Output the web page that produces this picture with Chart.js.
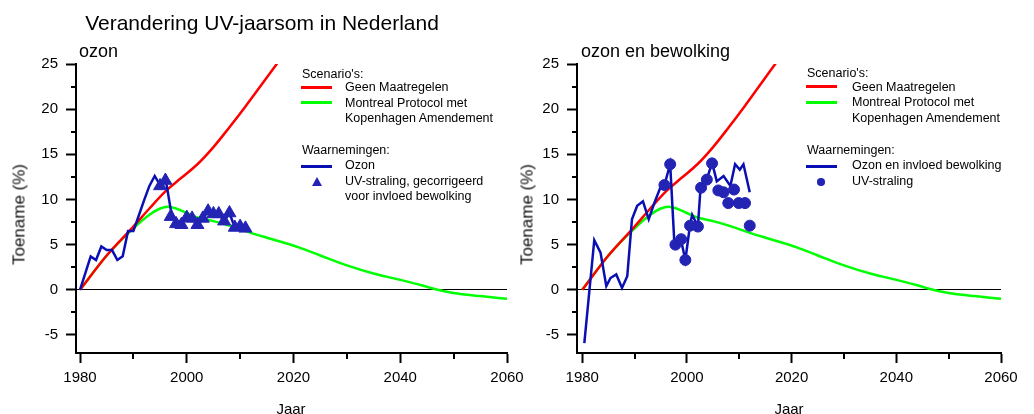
<!DOCTYPE html>
<html>
<head>
<meta charset="utf-8">
<script src="https://cdn.jsdelivr.net/npm/chart.js@4.4.1/dist/chart.umd.min.js"></script>
<style>
  body { margin: 0; background: #fff; width: 1034px; height: 414px; overflow: hidden; position: relative;
         font-family: "Liberation Sans", Arial, sans-serif; color: #000; }
  canvas { position: absolute; top: 0; }
  .t { position: absolute; white-space: nowrap; line-height: 1; }
  .lg { font-size: 12.5px; }
  .ln { position: absolute; width: 31px; height: 3px; }
  .yt { position: absolute; width: 140px; height: 17px; line-height: 17px; font-size: 17px; font-weight: normal;
        text-align: center; transform: rotate(-90deg); color: #111; }
  .xt { position: absolute; width: 100px; text-align: center; font-size: 15px; line-height: 1; }
</style>
</head>
<body>
<canvas id="leftChart" width="530" height="414" style="left:0"></canvas>
<canvas id="rightChart" width="524" height="414" style="left:510px"></canvas>

<div class="t" style="left:62px;width:400px;text-align:center;top:12px;font-size:21px">Verandering UV-jaarsom in Nederland</div>
<div class="t" style="left:79px;top:42px;font-size:18px">ozon</div>
<div class="t" style="left:581px;top:42px;font-size:18px">ozon en bewolking</div>

<div class="yt" style="left:-51px;top:206px">Toename (%)</div>
<div class="yt" style="left:457px;top:206px">Toename (%)</div>
<div class="xt" style="left:241px;top:401px">Jaar</div>
<div class="xt" style="left:739px;top:401px">Jaar</div>

<!-- legend left -->
<div class="t lg" style="left:302px;top:67.5px">Scenario's:</div>
<div class="ln" style="left:301px;top:85.8px;background:#ff0000"></div>
<div class="t lg" style="left:345px;top:81px">Geen Maatregelen</div>
<div class="ln" style="left:301px;top:101.2px;background:#00ff00"></div>
<div class="t lg" style="left:345px;top:96.5px">Montreal Protocol met</div>
<div class="t lg" style="left:345px;top:112px">Kopenhagen Amendement</div>
<div class="t lg" style="left:302px;top:143.5px">Waarnemingen:</div>
<div class="ln" style="left:301px;top:164.5px;background:#0a0fb4"></div>
<div class="t lg" style="left:345px;top:159.3px">Ozon</div>
<svg style="position:absolute;left:312px;top:176.5px" width="10" height="9"><polygon points="5,0 10,9 0,9" fill="#2323b4"/></svg>
<div class="t lg" style="left:345px;top:174.8px">UV-straling, gecorrigeerd</div>
<div class="t lg" style="left:345px;top:190.3px">voor invloed bewolking</div>

<!-- legend right -->
<div class="t lg" style="left:807px;top:66.5px">Scenario's:</div>
<div class="ln" style="left:806px;top:85.2px;background:#ff0000"></div>
<div class="t lg" style="left:852px;top:80.5px">Geen Maatregelen</div>
<div class="ln" style="left:806px;top:100.8px;background:#00ff00"></div>
<div class="t lg" style="left:852px;top:96px">Montreal Protocol met</div>
<div class="t lg" style="left:852px;top:111.7px">Kopenhagen Amendement</div>
<div class="t lg" style="left:807px;top:143.5px">Waarnemingen:</div>
<div class="ln" style="left:806px;top:164.5px;background:#0a0fb4"></div>
<div class="t lg" style="left:852px;top:159.3px">Ozon en invloed bewolking</div>
<div style="position:absolute;left:817px;top:178px;width:7.5px;height:7.5px;border-radius:50%;background:#2323b4"></div>
<div class="t lg" style="left:852px;top:174.8px">UV-straling</div>

<script>
// scenario curves (same in both panels)
const scenYears = [1980, 1985, 1990, 1993, 1996, 1999, 2002, 2005, 2008, 2011, 2014, 2017, 2020];
const geenMaatregelen = [0, 3.8, 7.0, 9.0, 10.9, 12.4, 13.9, 15.8, 18.0, 20.3, 22.7, 25.1, 27.4];

const montrealYears = [1980, 1985, 1990, 1993, 1995, 1996.5, 1998, 2000, 2002, 2005, 2008, 2012, 2016, 2021, 2025, 2030, 2035, 2040, 2044, 2047, 2050, 2055, 2060];
const montrealKopenhagen = [0, 3.8, 6.8, 8.3, 9.0, 9.2, 9.0, 8.5, 8.0, 7.6, 7.1, 6.3, 5.6, 4.7, 3.8, 2.7, 1.8, 1.1, 0.5, 0.0, -0.35, -0.7, -1.0];

// left panel: ozon
const ozonYears = [1980, 1982, 1983, 1984, 1985, 1986, 1987, 1988, 1989, 1990, 1991, 1992, 1993, 1994, 1995, 1996, 1997, 1998, 1999, 2000, 2001, 2002, 2003, 2004, 2005, 2006, 2007, 2008, 2009, 2010, 2011];
const ozonValues = [0, 3.7, 3.3, 4.8, 4.4, 4.4, 3.3, 3.7, 6.5, 6.5, 8.2, 9.9, 11.5, 12.6, 11.6, 12.4, 8.9, 7.3, 7.2, 8.0, 7.9, 7.2, 7.9, 8.7, 8.4, 8.4, 7.6, 8.5, 6.9, 7.0, 6.8];

const uvCorrYears = [1995, 1996, 1997, 1998, 1999, 2000, 2001, 2002, 2003, 2004, 2005, 2006, 2007, 2008, 2009, 2010, 2011];
const uvCorrValues = [11.5, 12.1, 8.1, 7.3, 7.2, 8.0, 7.9, 7.2, 7.9, 8.7, 8.4, 8.4, 7.6, 8.5, 6.9, 7.0, 6.8];

// right panel: ozon en bewolking
const bewolkingYears = [1980.4, 1982.3, 1983.5, 1984.6, 1985.4, 1986.5, 1987.6, 1988.6, 1989.5, 1990.5, 1991.6, 1992.7, 1993.7, 1994.9, 1995.7, 1996.8, 1997.6, 1998.8, 1999.7, 2000.6, 2001.0, 2002.1, 2002.6, 2003.8, 2004.8, 2005.7, 2007.0, 2008.3, 2009.2, 2010.1, 2010.8, 2012.0];
const bewolkingValues = [-5.9, 5.5, 4.1, 0.4, 1.3, 1.7, 0.2, 1.5, 7.8, 9.3, 9.8, 7.8, 9.5, 11.3, 11.6, 13.9, 5.2, 5.7, 3.3, 7.2, 8.3, 7.0, 11.3, 12.2, 14.1, 12.0, 12.6, 11.5, 13.9, 13.3, 13.9, 10.8];

const uvYears = [1995.7, 1996.8, 1997.8, 1998.9, 1999.7, 2000.6, 2002.1, 2002.7, 2003.8, 2004.8, 2006.0, 2007.0, 2007.9, 2009.0, 2009.9, 2011.1, 2012.0];
const uvValues = [11.6, 13.9, 5.0, 5.6, 3.3, 7.1, 7.0, 11.3, 12.2, 14.0, 11.0, 10.8, 9.6, 11.1, 9.6, 9.6, 7.1];

// axes
const xTicks = [1980, 2000, 2020, 2040, 2060];
const xMinorTicks = [1990, 2010, 2030, 2050];
const yTicks = [-5, 0, 5, 10, 15, 20, 25];
const yMinorTicks = [-2.5, 2.5, 7.5, 12.5, 17.5, 22.5];

const FONT = '"Liberation Sans", Arial, sans-serif';
const RED = '#ff0000', GREEN = '#00ff00', BLUE = '#0a0fb4', MARK = '#2323b4';

function pts(xs, ys) { return xs.map((x, i) => ({x: x, y: ys[i]})); }

// small ticks between the labelled ones
const minorTicks = {
    id: 'minorTicks',
    afterDraw(chart) {
        const {ctx, chartArea, scales: {x, y}} = chart;
        ctx.save();
        ctx.strokeStyle = '#000';
        ctx.lineWidth = 2;
        ctx.beginPath();
        xMinorTicks.forEach(v => {
            const px = Math.round(x.getPixelForValue(v));
            ctx.moveTo(px, chartArea.bottom);
            ctx.lineTo(px, chartArea.bottom + 6);
        });
        yMinorTicks.forEach(v => {
            const py = Math.round(y.getPixelForValue(v));
            ctx.moveTo(chartArea.left, py);
            ctx.lineTo(chartArea.left - 5, py);
        });
        ctx.stroke();
        ctx.restore();
    }
};

function makeChart(id, lineData, markData, markStyle, markRadius, xMin, yWidth, padRight) {
    return new Chart(document.getElementById(id), {
        type: 'line',
        data: {
            datasets: [
                { data: markData, showLine: false, pointStyle: markStyle, pointRadius: markRadius,
                  pointBackgroundColor: MARK, pointBorderColor: MARK, pointBorderWidth: 1, order: 1 },
                { data: lineData, borderColor: BLUE, borderWidth: 2.5, pointRadius: 0, tension: 0, order: 2 },
                { data: pts(scenYears, geenMaatregelen), borderColor: RED, borderWidth: 2.5, pointRadius: 0,
                  cubicInterpolationMode: 'monotone', order: 3 },
                { data: pts(montrealYears, montrealKopenhagen), borderColor: GREEN, borderWidth: 2.5, pointRadius: 0,
                  cubicInterpolationMode: 'monotone', order: 4 }
            ]
        },
        options: {
            responsive: false,
            animation: false,
            devicePixelRatio: 1,
            layout: { padding: { top: 64, right: padRight, left: 0, bottom: 0 } },
            plugins: { legend: { display: false }, tooltip: { enabled: false } },
            scales: {
                x: {
                    type: 'linear', min: xMin, max: 2060,
                    afterBuildTicks: s => { s.ticks = xTicks.map(v => ({value: v})); },
                    afterFit: s => { s.height = 61; },
                    grid: { drawOnChartArea: false, tickLength: 10, tickWidth: 2, tickColor: '#000' },
                    border: { color: '#000', width: 2 },
                    ticks: { color: '#000', font: { family: FONT, size: 15 }, padding: 6, maxRotation: 0,
                             autoSkip: false, callback: v => String(v) }
                },
                y: {
                    type: 'linear', min: -7, max: 25,
                    afterBuildTicks: s => { s.ticks = yTicks.map(v => ({value: v})); },
                    afterFit: s => { s.width = yWidth; },
                    grid: { color: c => (c.tick && c.tick.value === 0) ? '#000' : 'rgba(0,0,0,0)',
                            lineWidth: 1, tickLength: 10, tickWidth: 2, tickColor: '#000' },
                    border: { color: '#000', width: 2 },
                    ticks: { color: '#000', font: { family: FONT, size: 15 }, padding: 8,
                             autoSkip: false, callback: v => String(v) }
                }
            }
        },
        plugins: [minorTicks]
    });
}

makeChart('leftChart', pts(ozonYears, ozonValues), pts(uvCorrYears, uvCorrValues), 'triangle', 7.5, 1979.25, 76, 23);
makeChart('rightChart', pts(bewolkingYears, bewolkingValues), pts(uvYears, uvValues), 'circle', 5.5, 1979, 67, 33);
</script>
</body>
</html>
